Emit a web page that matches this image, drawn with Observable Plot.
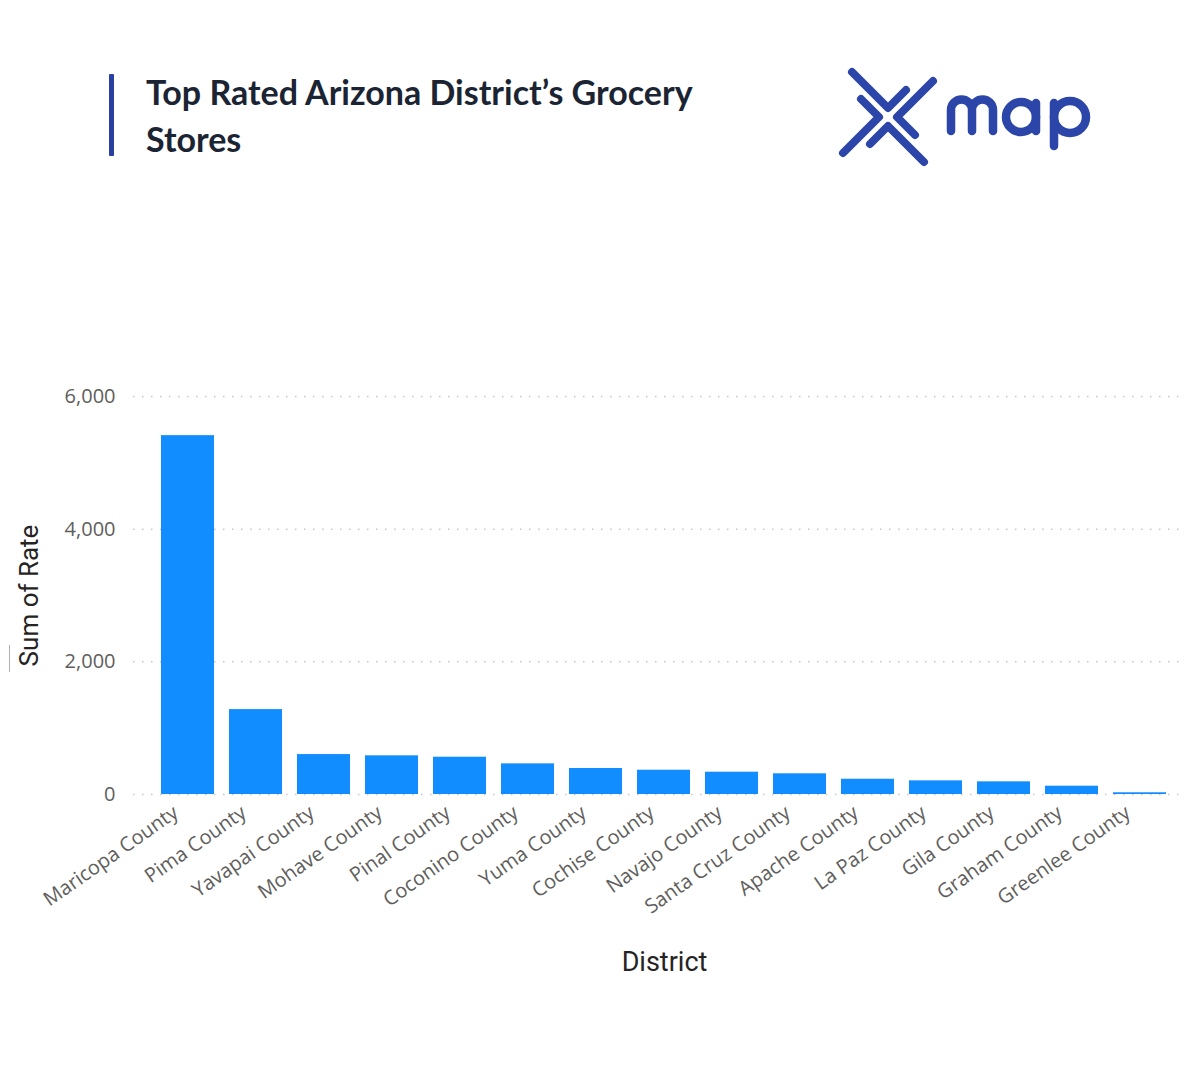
<!DOCTYPE html>
<html>
<head>
<meta charset="utf-8">
<script src="https://cdn.jsdelivr.net/npm/d3@7"></script>
<script src="https://cdn.jsdelivr.net/npm/@observablehq/plot@0.6"></script>
<style>
  body { margin: 0; background: #fff; }
  #page { position: relative; width: 1200px; height: 1080px; overflow: hidden; background: #fff; }
  #accent { position: absolute; left: 109px; top: 74px; width: 5px; height: 82px; background: #2a40a0; border-radius: 1px; }
  #title { position: absolute; left: 146px; top: 68px; width: 620px; font: 700 34px/47px Lato, sans-serif; color: #1b2433; margin: 0; }
  #logo { position: absolute; left: 0; top: 0; }
  #chart { position: absolute; left: 0; top: 340px; }
  #artifact { position: absolute; left: 9px; top: 645px; width: 1px; height: 27px; background: #b0b0b0; }
</style>
</head>
<body>
<div id="page">
  <div id="accent"></div>
  <h1 id="title">Top Rated Arizona District’s Grocery Stores</h1>
  <svg id="logo" width="1200" height="200">
    <g transform="translate(888,117)" fill="none" stroke="#2b45a8" stroke-width="8" stroke-linecap="round" stroke-linejoin="round">
      <polyline points="-36,-45 0,-9 18,-27"/>
      <polyline points="45,-36 9,0 27,18"/>
      <polyline points="36,45 0,9 -18,27"/>
      <polyline points="-45,36 -9,0 -27,-18"/>
    </g>
    <g fill="none" stroke="#2b45a8" stroke-width="8.5" stroke-linecap="round" stroke-linejoin="round">
      <path d="M951,131 V110 A10.5,10.5 0 0 1 972,110 V131 M972,110 A10.5,10.5 0 0 1 993,110 V131"/>
      <circle cx="1021" cy="117" r="15"/>
      <path d="M1036,103 V131"/>
      <circle cx="1070" cy="117" r="16"/>
      <path d="M1054,103 V146"/>
    </g>
  </svg>
  <div id="artifact"></div>
  <div id="chart"></div>
</div>
<script>
const districts = [
  "Maricopa County", "Pima County", "Yavapai County", "Mohave County", "Pinal County",
  "Coconino County", "Yuma County", "Cochise County", "Navajo County", "Santa Cruz County",
  "Apache County", "La Paz County", "Gila County", "Graham County", "Greenlee County"
];
const rates = [5410, 1280, 602, 583, 562, 462, 392, 366, 336, 312, 230, 206, 191, 125, 26];
const yTicks = [0, 2000, 4000, 6000];
const yTitle = "Sum of Rate";
const xTitle = "District";

const data = districts.map((d, i) => ({district: d, rate: rates[i]}));

const chart = Plot.plot({
  width: 1200,
  height: 660,
  marginTop: 56,
  marginBottom: 206,
  marginLeft: 133,
  marginRight: 15,
  style: {fontFamily: "'Open Sans', sans-serif", fontSize: "20px", color: "#605e5c", background: "transparent"},
  x: {domain: districts, padding: 0.22, insetLeft: 13, insetRight: 4, label: null},
  y: {domain: [0, 6000], label: null},
  marks: [
    Plot.gridY(yTicks, {stroke: "#c8c6c4", strokeOpacity: 1, strokeWidth: 1.5, strokeDasharray: "1.5,7.5"}),
    Plot.barY(data, {x: "district", y: "rate", fill: "#118DFF"}),
    Plot.axisY(yTicks, {tickSize: 0, tickPadding: 18, tickFormat: d3.format(","), label: null, fontSize: 20, fill: "#605e5c"}),
    Plot.axisX({tickSize: 0, tickPadding: 16, dx: -12, tickRotate: -35, label: null, fontSize: 20, fill: "#605e5c"}),
    Plot.text([yTitle], {frameAnchor: "left", textAnchor: "middle", rotate: -90, dx: -104, fontSize: 26, fill: "#252423", fontFamily: "Roboto, sans-serif"}),
    Plot.text([xTitle], {frameAnchor: "bottom", textAnchor: "middle", lineAnchor: "middle", dy: 168, dx: 5, fontSize: 27, fill: "#252423", fontFamily: "Roboto, sans-serif"})
  ]
});
document.getElementById("chart").appendChild(chart);
</script>
</body>
</html>
